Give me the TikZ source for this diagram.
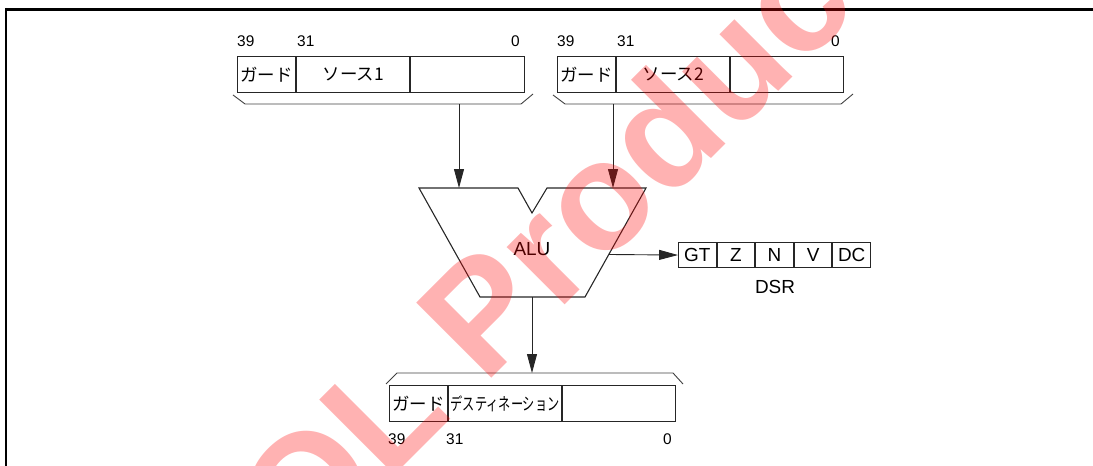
\documentclass[tikz,border=0pt]{standalone}
\usepackage{fontspec}
\setmainfont{Liberation Sans}
\newfontfamily\jpfont{Noto Sans CJK JP}
\usetikzlibrary{arrows.meta,positioning}
\tikzset{
  regcell/.style={draw=black!85, line width=1.1pt, minimum height=36bp, inner sep=0pt, font=\jpfont\fontsize{17.5}{18}\selectfont},
  flagcell/.style={draw=black!85, line width=1.1pt, minimum width=37.5bp, minimum height=25bp, inner sep=0pt, font=\fontsize{19}{19}\selectfont},
  bitno/.style={inner sep=0pt, font=\fontsize{15.5}{16}\selectfont},
  bus/.style={line width=0.9pt, draw=black!85, -{Triangle[length=19pt,width=10pt]}},
  brace/.style={line width=0.9pt, draw=black!75},
  watermark/.style={text=red, text opacity=0.3, inner sep=0pt, font=\bfseries\fontsize{155}{155}\selectfont},
}

\begin{document}
\begin{tikzpicture}[x=1bp,y=-1bp]
        \useasboundingbox (0,0) rectangle (1093,466);
        % frame, top and left sides only
        \draw[line width=3pt] (6,9.3)--(1093,9.3);
        \draw[line width=3pt] (6,7.8)--(6,466);

        % source 1 register
        \node[regcell, minimum width=58bp, anchor=north west] (s1g) at (237,56) {ガード};
        \node[regcell, minimum width=113bp, right=0pt of s1g] (s1s) {ソース1};
        \node[regcell, minimum width=114bp, right=0pt of s1s] (s1l) {};
        \node[bitno, anchor=base west] (s1hi) at (237,47) {39};
        \node[bitno, anchor=base west] (s1mid) at (297,47) {31};
        \node[bitno, anchor=base east] (s1lo) at (520,47) {0};
        \draw[brace] (233,95)--(245,104)--(521,104)--(533,94);

        % source 2 register
        \node[regcell, minimum width=58bp, anchor=north west] (s2g) at (557,56) {ガード};
        \node[regcell, minimum width=113bp, right=0pt of s2g] (s2s) {ソース2};
        \node[regcell, minimum width=113bp, right=0pt of s2s] (s2l) {};
        \node[bitno, anchor=base west] (s2hi) at (557,47) {39};
        \node[bitno, anchor=base west] (s2mid) at (617,47) {31};
        \node[bitno, anchor=base east] (s2lo) at (840,47) {0};
        \draw[brace] (553,95)--(565,104)--(841,104)--(853,94);

        % ALU
        \draw[line width=1.1pt, draw=black!85] (419,188)--(518,188)--(532,213)--(547,188)--(646,188)--(585,297)--(480,297)--cycle;
        \node[font=\fontsize{19}{19}\selectfont] (alu) at (532,249) {ALU};
        \coordinate (s1b) at (459,104);
        \coordinate (s2b) at (613,104);
        \coordinate (in1) at (459,188);
        \coordinate (in2) at (613,188);
        \coordinate (aluo) at (609,254.5);
        \coordinate (alub) at (532,297);
        \draw[bus] (s1b)--(in1);
        \draw[bus] (s2b)--(in2);

        % DSR flags
        \node[flagcell, anchor=north west] (gt) at (678,242) {GT};
        \node[flagcell, right=0pt of gt] (z) {Z};
        \node[flagcell, right=0pt of z] (n) {N};
        \node[flagcell, right=0pt of n] (v) {V};
        \node[flagcell, right=0pt of v] (dc) {DC};
        \node[font=\fontsize{19}{19}\selectfont] (dsr) at (775,287) {DSR};
        \draw[bus] (aluo)--(gt.west);

        % destination register
        \node[regcell, minimum width=58bp, anchor=north west] (dg) at (389,385) {ガード};
        \node[regcell, minimum width=113bp, right=0pt of dg] (ds) {\scalebox{0.7}[1]{デスティネーション}};
        \node[regcell, minimum width=113bp, right=0pt of ds] (dl) {};
        \node[bitno, anchor=base west] (dhi) at (388,444) {39};
        \node[bitno, anchor=base west] (dmid) at (446,444) {31};
        \node[bitno, anchor=base east] (dlo) at (672,444) {0};
        \draw[brace] (386,384)--(397,373)--(673,373)--(683,384);
        \coordinate (dtop) at (532,373);
        \draw[bus] (alub)--(dtop);

        % EOL stamp
        \begin{scope}
        \clip (0,0) rectangle (1093,466);
        \node[watermark, rotate=45, anchor=base west] (eol) at (230,640) {EOL Product};
        \end{scope}
    \end{tikzpicture}
\end{document}
